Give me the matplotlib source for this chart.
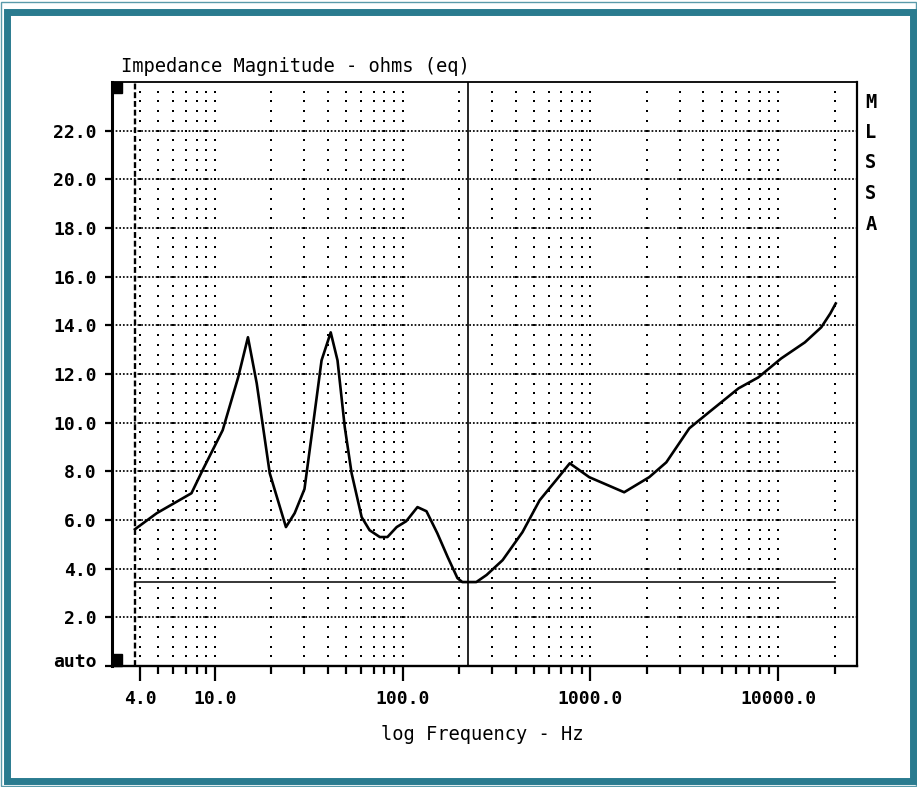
import numpy as np
import matplotlib
matplotlib.use("Agg")
import matplotlib.pyplot as plt
import matplotlib.transforms as mtransforms
from matplotlib.patches import Rectangle

# impedance curve
freq_hz = [3.75, 4.9, 7.5, 8.6, 11.0, 13.3, 15.0, 16.7, 19.6, 23.9, 26.6,
           30.0, 33.2, 37.0, 41.4, 45.0, 49.2, 53.5, 60.5, 66.7, 75.6, 83.0,
           93.0, 104.5, 120.0, 134.0, 153.0, 174.0, 196.0, 208.0, 247.0,
           280.0, 341.0, 435.0, 537.0, 658.0, 777.0, 987.0, 1515.0, 2060.0,
           2540.0, 3370.0, 4290.0, 6160.0, 7850.0, 10400.0, 13900.0,
           17000.0, 19000.0, 20300.0]
impedance_ohm = [5.62, 6.28, 7.10, 8.05, 9.69, 11.86, 13.51, 11.62, 7.92,
                 5.71, 6.28, 7.27, 9.81, 12.56, 13.71, 12.56, 9.81, 7.92,
                 6.12, 5.58, 5.30, 5.30, 5.71, 5.95, 6.53, 6.36, 5.46, 4.47,
                 3.61, 3.45, 3.45, 3.74, 4.35, 5.50, 6.81, 7.64, 8.33, 7.76,
                 7.14, 7.76, 8.37, 9.77, 10.43, 11.41, 11.86, 12.64, 13.30,
                 13.92, 14.49, 14.90]

min_level = 3.45          # horizontal reference line
cursor_hz = 222.0         # solid vertical cursor
start_hz = 3.75           # dashed start marker
end_hz = 20000.0

y_ticks = [0, 2, 4, 6, 8, 10, 12, 14, 16, 18, 20, 22]
y_labels = ["auto", "2.0", "4.0", "6.0", "8.0", "10.0", "12.0", "14.0",
            "16.0", "18.0", "20.0", "22.0"]
x_major = [4.0, 10.0, 100.0, 1000.0, 10000.0]
x_major_labels = ["4.0", "10.0", "100.0", "1000.0", "10000.0"]
x_minor = [5, 6, 7, 8, 9, 20, 30, 40, 50, 60, 70, 80, 90,
           200, 300, 400, 500, 600, 700, 800, 900,
           2000, 3000, 4000, 5000, 6000, 7000, 8000, 9000, 20000]

W, H = 917, 787
fig = plt.figure(figsize=(W / 100, H / 100), dpi=100)
ax = fig.add_axes([112 / W, 1 - 666 / H, (857 - 112) / W, (666 - 82) / H])
ax.set_xscale("log")
ax.set_xlim(2.83, 26350)
ax.set_ylim(0, 24)

mono = "DejaVu Sans Mono"

# dotted grid: dense horizontal rows, sparse vertical columns
for y in y_ticks[1:]:
    ax.axhline(y, color="black", lw=1.25, ls=(0, (1, 1.1)), zorder=1)
col_x = [4, 10, 100, 1000, 10000] + x_minor
dot_y = np.arange(0.4, 24, 0.4)
for fx in col_x:
    ax.scatter([fx] * len(dot_y), dot_y, s=2.2, marker="s", color="black",
               linewidths=0, zorder=1)

ax.axvline(start_hz, color="black", lw=1.7, ls=(0, (2.5, 1.2)), zorder=2)
ax.axvline(cursor_hz, color="black", lw=1.2, zorder=2)
ax.plot([start_hz, end_hz], [min_level, min_level], color="black", lw=1.1,
        zorder=2)
ax.plot(freq_hz, impedance_ohm, color="black", lw=1.9, zorder=3,
        solid_joinstyle="round")

# corner markers
ax.add_patch(Rectangle((0, 0), 10 / 745, 12 / 584, transform=ax.transAxes,
                       color="black", zorder=4, clip_on=False))
ax.add_patch(Rectangle((0, 1 - 11 / 584), 10 / 745, 11 / 584,
                       transform=ax.transAxes, color="black", zorder=4,
                       clip_on=False))

ax.set_yticks(y_ticks)
ax.set_yticklabels(y_labels, family=mono, fontweight="bold", fontsize=13)
ax.set_xticks(x_major)
ax.set_xticklabels(x_major_labels, family=mono, fontweight="bold",
                   fontsize=13)
ax.set_xticks(x_minor, minor=True)
ax.tick_params(axis="x", which="minor", length=6, width=1.6, direction="out")
ax.tick_params(axis="x", which="major", length=11, width=1.6, pad=6,
               direction="out")
ax.tick_params(axis="y", which="both", length=5, width=1.6, pad=6,
               direction="out")
ax.yaxis.set_minor_locator(matplotlib.ticker.NullLocator())
ax.xaxis.set_minor_formatter(matplotlib.ticker.NullFormatter())
# the "auto" label sits a little above the zero line
auto_lbl = ax.get_yticklabels()[0]
auto_lbl.set_transform(auto_lbl.get_transform() +
                       mtransforms.ScaledTranslation(0, 6 / 100,
                                                     fig.dpi_scale_trans))
for side, lw in [("left", 2.2), ("bottom", 1.7), ("top", 1.3), ("right", 1.6)]:
    ax.spines[side].set_linewidth(lw)

fig.text(121 / W, 1 - 66 / H, "Impedance Magnitude - ohms (eq)", family=mono,
         fontsize=13.5, ha="left", va="center")
fig.text(482 / W, 1 - 735 / H, "log Frequency - Hz", family=mono,
         fontsize=13.5, ha="center", va="center")
for i, ch in enumerate("MLSSA"):
    fig.text(871 / W, 1 - (102 + 30.5 * i) / H, ch, family=mono,
             fontweight="bold", fontsize=13.5, ha="center", va="center")

# teal frame
teal = "#2a7b8f"
fig.add_artist(Rectangle((1 / W, 1 / H), (W - 2) / W, (H - 3) / H,
                         transform=fig.transFigure, fill=False,
                         edgecolor="#5a9aaa", lw=1.0))
fig.add_artist(Rectangle((7 / W, 1 - 781 / H), (913 - 7) / W, (781 - 12) / H,
                         transform=fig.transFigure, fill=False,
                         edgecolor=teal, lw=5))

fig.savefig("out.png", dpi=100)
